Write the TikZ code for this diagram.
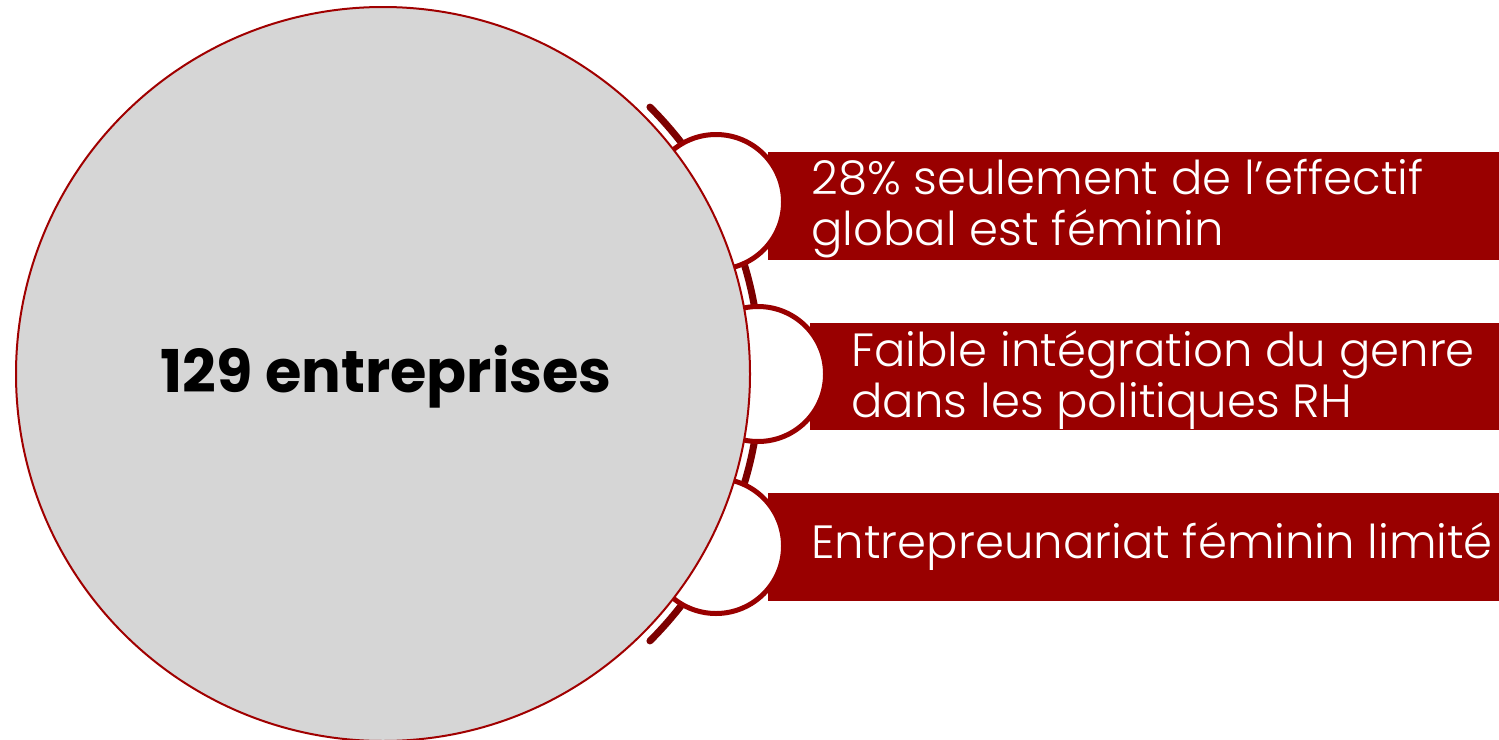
\documentclass[tikz,border=0pt]{standalone}
\usepackage{fontspec}
\usetikzlibrary{calc}
\setmainfont{Poppins}
\newfontfamily\lightfont{Poppins Light}
\newfontfamily\boldfont{Poppins Bold}
\definecolor{dred}{HTML}{990000}
\definecolor{arcred}{HTML}{7C0000}
\definecolor{rimred}{HTML}{A00000}
\definecolor{greyin}{HTML}{D6D6D6}
\definecolor{greyout}{HTML}{C4C4C4}
\pgfdeclareradialshading{bigshade}{\pgfpoint{0bp}{0bp}}{color(0bp)=(greyin); color(44bp)=(greyin); color(50bp)=(greyout)}
\tikzset{
  bar/.style={fill=dred, draw=none},
  bubble/.style={circle, fill=white, draw=dred, line width=2.5pt, minimum size=67.5pt, inner sep=0pt},
  label/.style={text=white, anchor=west, align=left, font=\lightfont\fontsize{23.3}{25.5}\selectfont, inner sep=0pt},
}
\begin{document}
\begin{tikzpicture}[x=0.5pt,y=-0.5pt]
\useasboundingbox (0,0) rectangle (1499,739);
\coordinate (c) at (383,374);
% outer arc
\draw[arcred, line width=3.5pt, line cap=round] ($(c)+(-45:377.5)$) arc[start angle=-45, end angle=45, radius=377.5];
% bars
\fill[bar] (768,152) rectangle (1499,260);
\fill[bar] (810,323) rectangle (1499,430);
\fill[bar] (768,493) rectangle (1499,601);
% bubbles
\node[bubble] (b1) at (716,202) {};
\node[bubble] (b2) at (758,374) {};
\node[bubble] (b3) at (716,546) {};
% big circle
\node[circle, minimum size=367pt, inner sep=0pt, shading=bigshade, draw=rimred, line width=1pt] (big) at (c) {};
\node[font=\boldfont\fontsize{29.5}{31}\selectfont, text=black] (title) at (386,377) {129 entreprises};
% labels
\node[label] (t1) at (811,209) {28\% seulement de l’effectif\\global est féminin};
\node[label] (t2) at (851,380) {Faible intégration du genre\\dans les politiques RH};
\node[label] (t3) at (811,547) {Entrepreunariat féminin limité};
\end{tikzpicture}
\end{document}
